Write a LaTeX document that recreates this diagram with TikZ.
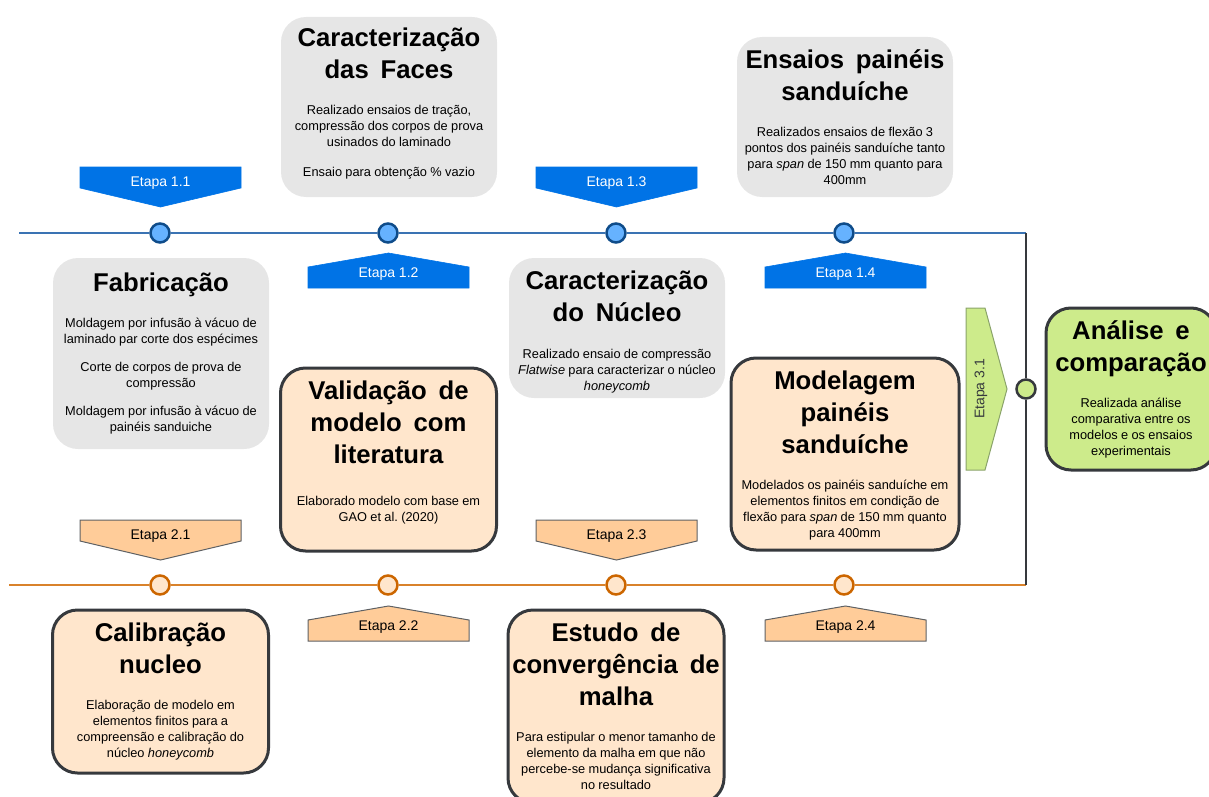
\documentclass[tikz,border=0pt]{standalone}
\usepackage{fontspec}
\setmainfont{Liberation Sans}
\usetikzlibrary{positioning}

\definecolor{boxgray}{HTML}{E6E6E6}
\definecolor{boxorange}{HTML}{FFE6CC}
\definecolor{boxgreen}{HTML}{CDEB8B}
\definecolor{etapablue}{HTML}{0073E6}
\definecolor{etapaorange}{HTML}{FFCC99}
\definecolor{lineblue}{HTML}{3A73B3}
\definecolor{dotblue}{HTML}{66B2FF}
\definecolor{dotblueedge}{HTML}{0F4C8A}
\definecolor{lineorange}{HTML}{D9822B}
\definecolor{dotorangeedge}{HTML}{CC6600}
\definecolor{edgegray}{HTML}{36393D}
\definecolor{greenedge}{HTML}{8AA36A}

\newcommand{\titletext}{\fontsize{25.7}{32}\selectfont\bfseries\spaceskip=0.46em\relax}
\newcommand{\bodytext}{\fontsize{12.8}{16}\selectfont\frenchspacing}
\newcommand{\stagetext}[3][20pt]{\centering{\titletext #2\par}\vspace{#1}{\bodytext #3\par}}
\newcommand{\padline}[1]{\par\hrule height #1 width 0pt\relax}

\begin{document}
\begin{tikzpicture}[x=1pt, y=-1pt,
                    gray box/.style={rounded corners=25pt, fill=boxgray, inner xsep=0pt, inner ysep=0pt, text width=216pt, align=center},
                    orange box/.style={gray box, fill=boxorange, draw=edgegray, line width=3pt},
                    green box/.style={orange box, fill=boxgreen, text width=170pt},
                    blue dot/.style={circle, fill=dotblue, draw=dotblueedge, line width=2.5pt, minimum size=19pt, inner sep=0pt},
                    orange dot/.style={blue dot, fill=boxorange, draw=dotorangeedge},
                    green dot/.style={blue dot, fill=boxgreen, draw=edgegray},
                    etapa label/.style={font=\fontsize{14}{16}\selectfont, inner sep=0pt},
                    etapa blue/.style={fill=etapablue, draw=etapablue, line width=0.6pt},
                    etapa orange/.style={fill=etapaorange, draw=edgegray!80, line width=1pt},
                    etapa green/.style={fill=boxgreen, draw=greenedge, line width=1pt}]

  \useasboundingbox (0,0) rectangle (1209,797);

  % linha do tempo
  \coordinate (bstart) at (19,233);
  \coordinate (bend) at (1026,233);
  \coordinate (ostart) at (9,585);
  \coordinate (oend) at (1026,585);

  \node[blue dot] (b1) at (160,233) {};
  \node[blue dot] (b2) at (388,233) {};
  \node[blue dot] (b3) at (616,233) {};
  \node[blue dot] (b4) at (844,233) {};
  \node[orange dot] (o1) at (160,585) {};
  \node[orange dot] (o2) at (388,585) {};
  \node[orange dot] (o3) at (616,585) {};
  \node[orange dot] (o4) at (844,585) {};
  \node[green dot] (g1) at (1026,389) {};

  \path[draw=lineblue, line width=2.5pt]
  (bstart) edge (b1)
  (b1) edge (b2)
  (b2) edge (b3)
  (b3) edge (b4)
  (b4) edge (bend);
  \path[draw=lineorange, line width=2.5pt]
  (ostart) edge (o1)
  (o1) edge (o2)
  (o2) edge (o3)
  (o3) edge (o4)
  (o4) edge (oend);
  \path[draw=edgegray, line width=1.5pt]
  (bend) edge (g1)
  (g1) edge (oend);

  % etapas
  \path[etapa blue] (80,167) -- (241,167) -- (241,188) -- (160.5,207) -- (80,188) -- cycle;
  \node[etapa label, text=white] (e11) at (160.5,183) {Etapa 1.1};
  \path[etapa blue] (308,288) -- (469,288) -- (469,267) -- (388.5,253) -- (308,267) -- cycle;
  \node[etapa label, text=white] (e12) at (388.5,274) {Etapa 1.2};
  \path[etapa blue] (536,167) -- (697,167) -- (697,188) -- (616.5,207) -- (536,188) -- cycle;
  \node[etapa label, text=white] (e13) at (616.5,183) {Etapa 1.3};
  \path[etapa blue] (765,288) -- (926,288) -- (926,267) -- (845.5,253) -- (765,267) -- cycle;
  \node[etapa label, text=white] (e14) at (845.5,274) {Etapa 1.4};

  \path[etapa orange] (80,520) -- (241,520) -- (241,541) -- (160.5,560) -- (80,541) -- cycle;
  \node[etapa label] (e21) at (160.5,536) {Etapa 2.1};
  \path[etapa orange] (308,641) -- (469,641) -- (469,620) -- (388.5,606) -- (308,620) -- cycle;
  \node[etapa label] (e22) at (388.5,627) {Etapa 2.2};
  \path[etapa orange] (536,520) -- (697,520) -- (697,541) -- (616.5,560) -- (536,541) -- cycle;
  \node[etapa label] (e23) at (616.5,536) {Etapa 2.3};
  \path[etapa orange] (765,641) -- (926,641) -- (926,620) -- (845.5,606) -- (765,620) -- cycle;
  \node[etapa label] (e24) at (845.5,627) {Etapa 2.4};

  \path[etapa green] (966,308) -- (985,308) -- (1007,389) -- (985,470) -- (966,470) -- cycle;
  \node[etapa label, text=edgegray, rotate=90] (e31) at (981,389) {Etapa 3.1};

  % caixas
  \node[gray box, minimum height=180pt] (faces) at (389,107)
  {\stagetext{Caracterização\\das Faces}{Realizado ensaios de tração,\\compressão dos corpos de prova\\usinados do laminado\\[14pt]Ensaio para obtenção \% vazio}\padline{6pt}};
  \node[gray box, minimum height=160pt] (ensaios) at (845,117)
  {\stagetext{Ensaios painéis\\sanduíche}{Realizados ensaios de flexão 3\\pontos dos painéis sanduíche tanto\\para \textit{span} de 150 mm quanto para\\400mm}};
  \node[gray box, minimum height=191pt] (fabric) at (161,353.5)
  {\stagetext{Fabricação}{Moldagem por infusão à vácuo de\\laminado par corte dos espécimes\\[12pt]Corte de corpos de prova de\\compressão\\[12pt]Moldagem por infusão à vácuo de\\painéis sanduiche}};
  \node[gray box, minimum height=140pt] (nucleo) at (617,328)
  {\padline{8pt}\stagetext[21pt]{Caracterização\\do Núcleo}{Realizado ensaio de compressão\\\textit{Flatwise} para caracterizar o núcleo\\\textit{honeycomb}}};

  \node[orange box, minimum height=183pt] (valid) at (388.5,459.5)
  {\stagetext[26pt]{Validação de\\modelo com\\literatura}{Elaborado modelo com base em\\GAO et al. (2020)}\padline{14pt}};
  \node[orange box, text width=228pt, minimum height=192pt] (modpain) at (845,454)
  {\padline{3pt}\stagetext{Modelagem\\painéis\\sanduíche}{Modelados os painéis sanduíche em\\elementos finitos em condição de\\flexão para \textit{span} de 150 mm quanto\\para 400mm}};
  \node[orange box, minimum height=163pt] (calib) at (160.5,691.5)
  {\stagetext{Calibração\\nucleo}{Elaboração de modelo em\\elementos finitos para a\\compreensão e calibração do\\núcleo \textit{honeycomb}}};
  \node[orange box, minimum height=193pt] (malha) at (616,706.5)
  {\stagetext{Estudo de\\convergência de\\malha}{Para estipular o menor tamanho de\\elemento da malha em que não\\percebe-se mudança significativa\\no resultado}};

  \node[green box, minimum height=162pt] (analise) at (1131,389)
  {\stagetext{Análise e\\comparação}{Realizada análise\\comparativa entre os\\modelos e os ensaios\\experimentais}};

\end{tikzpicture}
\end{document}
